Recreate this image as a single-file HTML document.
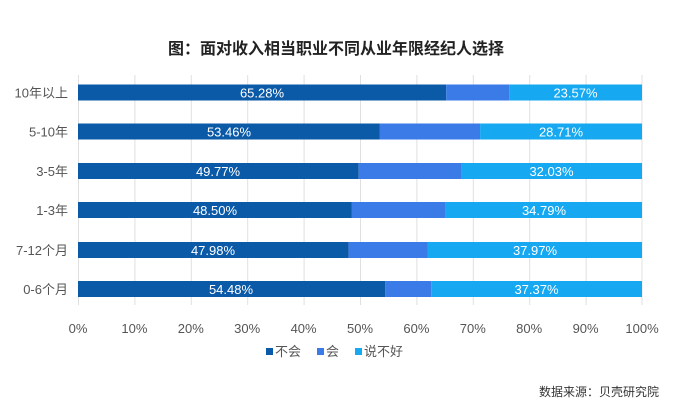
<!DOCTYPE html>
<html><head><meta charset="utf-8"><style>
body{margin:0;background:#fff;}
svg{display:block;font-family:"Liberation Sans","Noto Sans CJK SC",sans-serif;}
</style></head><body>
<svg width="673" height="405" viewBox="0 0 673 405">
<text x="336" y="54" text-anchor="middle" font-size="16" font-weight="bold" fill="#222">图：面对收入相当职业不同从业年限经纪人选择</text>
<g stroke="#e0e0e0" stroke-width="1">
<line x1="78.5" y1="75" x2="78.5" y2="305"/><line x1="134.9" y1="75" x2="134.9" y2="305"/><line x1="191.3" y1="75" x2="191.3" y2="305"/><line x1="247.7" y1="75" x2="247.7" y2="305"/><line x1="304.1" y1="75" x2="304.1" y2="305"/><line x1="360.5" y1="75" x2="360.5" y2="305"/><line x1="416.9" y1="75" x2="416.9" y2="305"/><line x1="473.3" y1="75" x2="473.3" y2="305"/><line x1="529.7" y1="75" x2="529.7" y2="305"/><line x1="586.1" y1="75" x2="586.1" y2="305"/><line x1="642" y1="75" x2="642" y2="305"/>
</g>
<g font-size="13" fill="#fff" text-anchor="middle">
<!-- row: y, a, c -->
<rect x="78" y="84.5" width="368.2" height="16" fill="#0b5aa8"/><rect x="446.2" y="84.5" width="62.9" height="16" fill="#3a7be8"/><rect x="509.1" y="84.5" width="132.9" height="16" fill="#16a8f0"/>
<text x="262" y="97.5">65.28%</text><text x="575.5" y="97.5">23.57%</text>
<rect x="78" y="123.5" width="301.5" height="16" fill="#0b5aa8"/><rect x="379.5" y="123.5" width="100.6" height="16" fill="#3a7be8"/><rect x="480.1" y="123.5" width="161.9" height="16" fill="#16a8f0"/>
<text x="229" y="136.5">53.46%</text><text x="561" y="136.5">28.71%</text>
<rect x="78" y="163" width="280.7" height="16" fill="#0b5aa8"/><rect x="358.7" y="163" width="102.7" height="16" fill="#3a7be8"/><rect x="461.4" y="163" width="180.6" height="16" fill="#16a8f0"/>
<text x="218" y="176">49.77%</text><text x="551.5" y="176">32.03%</text>
<rect x="78" y="202" width="273.5" height="16" fill="#0b5aa8"/><rect x="351.5" y="202" width="94.3" height="16" fill="#3a7be8"/><rect x="445.8" y="202" width="196.2" height="16" fill="#16a8f0"/>
<text x="215" y="215">48.50%</text><text x="544" y="215">34.79%</text>
<rect x="78" y="242" width="270.6" height="16" fill="#0b5aa8"/><rect x="348.6" y="242" width="79.3" height="16" fill="#3a7be8"/><rect x="427.9" y="242" width="214.1" height="16" fill="#16a8f0"/>
<text x="213" y="255">47.98%</text><text x="535" y="255">37.97%</text>
<rect x="78" y="281" width="307.3" height="16" fill="#0b5aa8"/><rect x="385.3" y="281" width="45.9" height="16" fill="#3a7be8"/><rect x="431.2" y="281" width="210.8" height="16" fill="#16a8f0"/>
<text x="231" y="294">54.48%</text><text x="536.5" y="294">37.37%</text>
</g>
<g font-size="13" fill="#555" text-anchor="end">
<text x="68" y="97.5">10年以上</text><text x="68" y="136.5">5-10年</text><text x="68" y="176">3-5年</text><text x="68" y="215">1-3年</text><text x="68" y="255">7-12个月</text><text x="68" y="294">0-6个月</text>
</g>
<g font-size="13" fill="#555" text-anchor="middle">
<text x="78" y="333">0%</text><text x="134.4" y="333">10%</text><text x="190.8" y="333">20%</text><text x="247.2" y="333">30%</text><text x="303.6" y="333">40%</text><text x="360" y="333">50%</text><text x="416.4" y="333">60%</text><text x="472.8" y="333">70%</text><text x="529.2" y="333">80%</text><text x="585.6" y="333">90%</text><text x="642" y="333">100%</text>
</g>
<g font-size="13" fill="#555">
<rect x="266" y="348" width="7" height="7" fill="#0b5aa8"/><text x="275" y="356">不会</text>
<rect x="317" y="348" width="7" height="7" fill="#3a7be8"/><text x="326" y="356">会</text>
<rect x="355" y="348" width="7" height="7" fill="#16a8f0"/><text x="364" y="356">说不好</text>
</g>
<text x="659" y="396" text-anchor="end" font-size="12" fill="#333">数据来源：贝壳研究院</text>
</svg>
</body></html>
